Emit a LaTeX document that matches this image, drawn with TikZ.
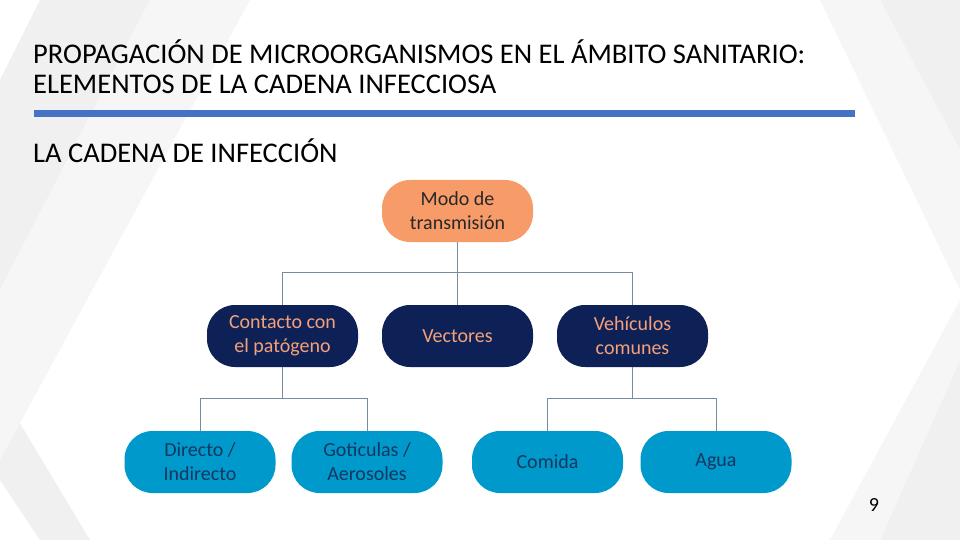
\documentclass[tikz,border=0pt]{standalone}
\usepackage{fontspec}
\setmainfont{Carlito}
\definecolor{corange}{RGB}{247,155,105}
\definecolor{cnavy}{RGB}{14,33,87}
\definecolor{ctxtor}{RGB}{244,160,120}
\definecolor{clblue}{RGB}{0,153,204}
\definecolor{ctxtbl}{RGB}{20,55,95}
\definecolor{cdark}{RGB}{40,40,40}
\definecolor{cline}{RGB}{120,140,160}
\definecolor{cbar}{RGB}{68,114,196}
\begin{document}
\begin{tikzpicture}[x=1pt,y=-1pt,
  box/.style={rounded corners=28pt,minimum width=151pt,minimum height=62pt,align=center,font=\fontsize{20}{24}\selectfont,inner sep=0pt},
  top/.style={box,fill=corange,text=cdark},
  mid/.style={box,fill=cnavy,text=ctxtor},
  low/.style={box,fill=clblue,text=ctxtbl},
  conn/.style={draw=cline,line width=0.8pt}]
\useasboundingbox (0,0) rectangle (960,540);
% background bands
\fill[gray!12] (40,0) -- (150,0) -- (0,290) -- (0,80) -- cycle;
\fill[gray!12] (0,480) -- (0,390) -- (90,540) -- (40,540) -- cycle;
\fill[gray!7] (150,0) -- (250,0) -- (0,460) -- (0,290) -- cycle;
\fill[gray!12] (880,0) -- (960,0) -- (960,150) -- cycle;
\fill[gray!7] (820,0) -- (880,0) -- (960,150) -- (960,290) -- cycle;
\fill[gray!12] (960,360) -- (960,540) -- (880,540) -- cycle;
\fill[gray!7] (960,300) -- (960,360) -- (880,540) -- (830,540) -- cycle;
% title
\node[anchor=west,font=\fontsize{28.5}{32}\selectfont,inner sep=0pt] (t1) at (33,52) {PROPAGACIÓN DE MICROORGANISMOS EN EL ÁMBITO SANITARIO:};
\node[anchor=west,font=\fontsize{28.5}{32}\selectfont,inner sep=0pt] (t2) at (33,84) {ELEMENTOS DE LA CADENA INFECCIOSA};
\fill[cbar] (34,110) rectangle (855,117);
\node[anchor=west,font=\fontsize{28.5}{32}\selectfont,inner sep=0pt] (sub) at (33,151) {LA CADENA DE INFECCIÓN};
% nodes
\node[top] (modo) at (457.5,211) {Modo de\\transmisión};
\node[mid] (cont) at (282.5,336) {Contacto con\\el patógeno};
\node[mid] (vect) at (457.5,336) {Vectores};
\node[mid] (vehi) at (632.5,336) {Vehículos\\comunes};
\node[low] (dir) at (200,462) {Directo /\\Indirecto};
\node[low] (got) at (367,462) {Goticulas /\\Aerosoles};
\node[low] (com) at (547.5,462) {Comida};
\node[low] (agua) at (716,462) {Agua};
% connectors
\draw[conn] (modo.south) -- (vect.north);
\draw[conn] (modo.south) -- ++(0,30) -| (cont.north);
\draw[conn] (modo.south) -- ++(0,30) -| (vehi.north);
\draw[conn] (cont.south) -- ++(0,31) -| (dir.north);
\draw[conn] (cont.south) -- ++(0,31) -| (got.north);
\draw[conn] (vehi.south) -- ++(0,31) -| (com.north);
\draw[conn] (vehi.south) -- ++(0,31) -| (agua.north);
\node[font=\fontsize{20}{22}\selectfont] (num) at (874,505) {9};
\end{tikzpicture}
\end{document}
